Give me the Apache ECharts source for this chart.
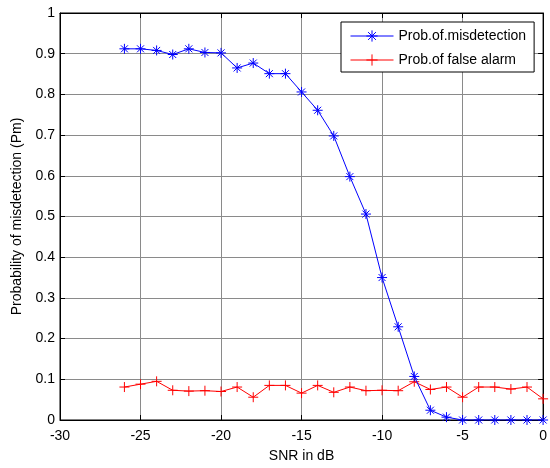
<!DOCTYPE html>
<html>
<head>
<meta charset="utf-8">
<script src="https://cdn.jsdelivr.net/npm/echarts@6/dist/echarts.min.js"></script>
<style>
  html, body { margin: 0; padding: 0; background: #fff; }
  #chart { width: 550px; height: 468px; }
</style>
</head>
<body>
<div id="chart"></div>
<script>
// SNR in dB
const snr = [-26, -25, -24, -23, -22, -21, -20, -19, -18, -17, -16, -15, -14, -13,
  -12, -11, -10, -9, -8, -7, -6, -5, -4, -3, -2, -1, 0];

const probMisdetection = [0.912, 0.912, 0.908, 0.898, 0.912, 0.903, 0.902, 0.865, 0.877,
  0.851, 0.851, 0.806, 0.761, 0.698, 0.598, 0.506, 0.350, 0.229, 0.107, 0.024, 0.007,
  0, 0, 0, 0, 0, 0];

const probFalseAlarm = [0.081, 0.088, 0.095, 0.073, 0.071, 0.072, 0.070, 0.081, 0.056,
  0.085, 0.085, 0.066, 0.085, 0.068, 0.081, 0.072, 0.073, 0.072, 0.094, 0.075, 0.081,
  0.056, 0.081, 0.081, 0.076, 0.081, 0.052];

const xTicks = [-30, -25, -20, -15, -10, -5, 0];
const yTicks = [0, 0.1, 0.2, 0.3, 0.4, 0.5, 0.6, 0.7, 0.8, 0.9, 1];

const font = 'Liberation Sans, Arial, sans-serif';
const starPath = 'path://M5,0L5,10M0,5L10,5M1.5,1.5L8.5,8.5M8.5,1.5L1.5,8.5';
const plusPath = 'path://M5,0L5,10M0,5L10,5';

function pairs(ys) {
  return snr.map((x, i) => [x, ys[i]]);
}

const chart = echarts.init(document.getElementById('chart'));
const gridLine = { show: true, lineStyle: { color: '#8a8a8a', width: 1 } };
const black = { lineStyle: { color: '#000', width: 1 } };

chart.setOption({
  animation: false,
  backgroundColor: '#fff',
  textStyle: { fontFamily: font },
  grid: {
    left: 60, right: 6, top: 13, bottom: 44,
    show: true, borderColor: '#000', borderWidth: 1
  },
  legend: {
    orient: 'vertical',
    left: 341, top: 22,
    padding: [7, 8, 5, 9],
    itemGap: 10,
    itemWidth: 43,
    itemHeight: 14,
    backgroundColor: '#fff',
    borderColor: '#000',
    borderWidth: 1,
    lineStyle: { width: 1 },
    itemStyle: { borderWidth: 1 },
    textStyle: { fontFamily: font, fontSize: 14, color: '#000' },
    data: ['Prob.of.misdetection', 'Prob.of false alarm']
  },
  xAxis: [
    {
      type: 'value',
      min: xTicks[0], max: xTicks[xTicks.length - 1], interval: 5,
      name: 'SNR in dB',
      nameLocation: 'middle',
      nameGap: 29,
      nameTextStyle: { fontFamily: font, fontSize: 14, color: '#000' },
      axisLine: Object.assign({ show: true, onZero: false }, black),
      axisTick: Object.assign({ show: true, inside: true, length: 5 }, black),
      axisLabel: { fontFamily: font, fontSize: 14, color: '#000', margin: 9 },
      splitLine: gridLine
    },
    {
      type: 'value', position: 'top',
      min: xTicks[0], max: xTicks[xTicks.length - 1], interval: 5,
      axisLine: Object.assign({ show: true, onZero: false }, black),
      axisTick: Object.assign({ show: true, inside: true, length: 5 }, black),
      axisLabel: { show: false },
      splitLine: { show: false }
    }
  ],
  yAxis: [
    {
      type: 'value',
      min: yTicks[0], max: yTicks[yTicks.length - 1], interval: 0.1,
      name: 'Probability of misdetection (Pm)',
      nameLocation: 'middle',
      nameGap: 33,
      nameTextStyle: { fontFamily: font, fontSize: 14, color: '#000' },
      axisLine: Object.assign({ show: true, onZero: false }, black),
      axisTick: Object.assign({ show: true, inside: true, length: 5 }, black),
      axisLabel: {
        fontFamily: font, fontSize: 14, color: '#000', margin: 5,
        formatter: v => String(Math.round(v * 10) / 10)
      },
      splitLine: gridLine
    },
    {
      type: 'value', position: 'right',
      min: yTicks[0], max: yTicks[yTicks.length - 1], interval: 0.1,
      axisLine: Object.assign({ show: true, onZero: false }, black),
      axisTick: Object.assign({ show: true, inside: true, length: 5 }, black),
      axisLabel: { show: false },
      splitLine: { show: false }
    }
  ],
  series: [
    {
      name: 'Prob.of.misdetection',
      type: 'line',
      data: pairs(probMisdetection),
      symbol: starPath,
      symbolSize: 10,
      showAllSymbol: true,
      lineStyle: { color: '#0000ff', width: 1 },
      itemStyle: { color: '#0000ff', borderColor: '#0000ff', borderWidth: 1 },
      z: 3
    },
    {
      name: 'Prob.of false alarm',
      type: 'line',
      data: pairs(probFalseAlarm),
      symbol: plusPath,
      symbolSize: 10,
      showAllSymbol: true,
      lineStyle: { color: '#ff0000', width: 1 },
      itemStyle: { color: '#ff0000', borderColor: '#ff0000', borderWidth: 1 },
      z: 2
    }
  ]
});
</script>
</body>
</html>
